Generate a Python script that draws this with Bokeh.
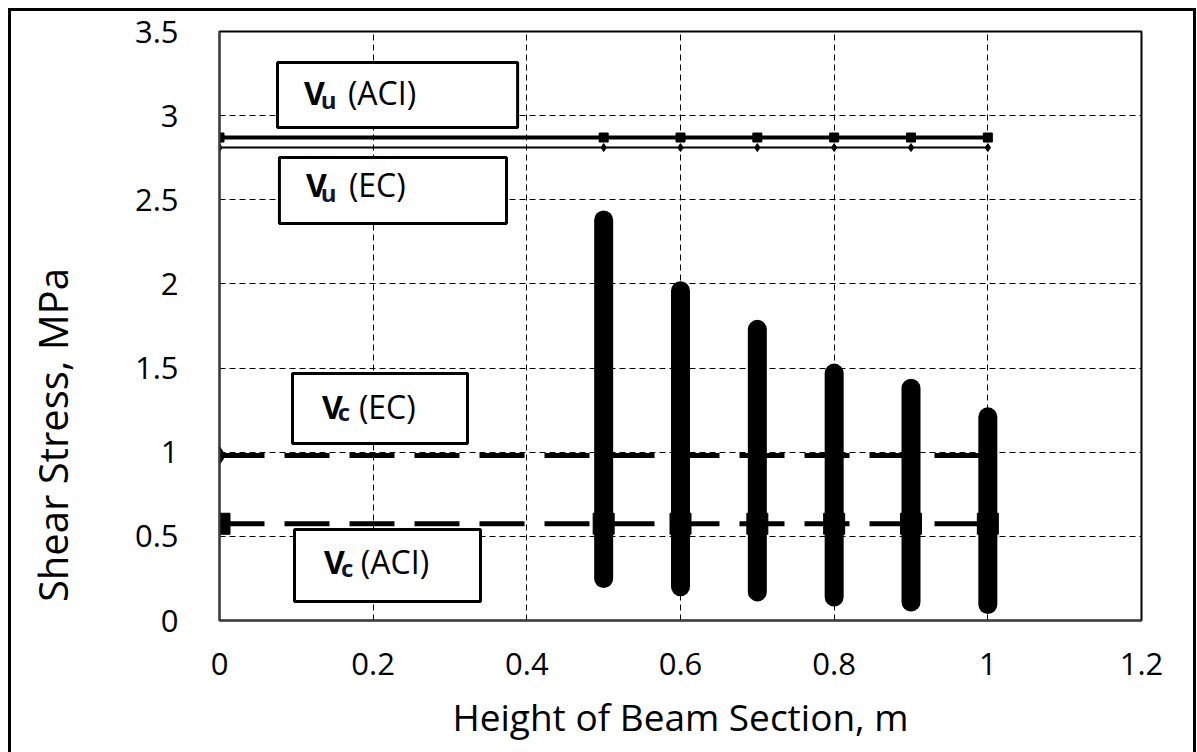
from bokeh.plotting import figure
from bokeh.models import FixedTicker, NumeralTickFormatter, InlineStyleSheet
from bokeh.core.properties import value
from bokeh.embed import file_html
from bokeh.resources import INLINE

# ---- data ----
heights = [0.0, 0.5, 0.6, 0.7, 0.8, 0.9, 1.0]
vu_aci = [2.87, 2.87, 2.87, 2.87, 2.87, 2.87, 2.87]
vu_ec = [2.81, 2.81, 2.81, 2.81, 2.81, 2.81, 2.81]
vc_ec = [0.98, 0.98, 0.98, 0.98, 0.98, 0.98, 0.98]
vc_aci = [0.575, 0.575, 0.575, 0.575, 0.575, 0.575, 0.575]

bar_x = [0.5, 0.6, 0.7, 0.8, 0.9, 1.0]
bar_top = [2.38, 1.96, 1.73, 1.47, 1.38, 1.21]
bar_bottom = [0.25, 0.20, 0.17, 0.14, 0.11, 0.095]

x_ticks = [0.0, 0.2, 0.4, 0.6, 0.8, 1.0, 1.2]
x_tick_labels = ["0", "0.2", "0.4", "0.6", "0.8", "1", "1.2"]
y_ticks = [0.0, 0.5, 1.0, 1.5, 2.0, 2.5, 3.0, 3.5]
y_tick_labels = ["0", "0.5", "1", "1.5", "2", "2.5", "3", "3.5"]

x_title = "Height of Beam Section, m"
y_title = "Shear Stress, MPa"

# annotation boxes: (left, right, bottom, top), label parts
box_left = [0.0755, 0.078, 0.095, 0.0976]
box_right = [0.388, 0.3735, 0.3228, 0.3397]
box_bottom = [2.929, 2.359, 1.052, 0.113]
box_top = [3.316, 2.751, 1.468, 0.541]
lab_main = ["V", "V", "V", "V"]
lab_sub = ["u", "u", "c", "c"]
lab_rest = ["(ACI)", "(EC)", "(EC)", "(ACI)"]
main_x = [0.110, 0.1125, 0.1334, 0.136]
main_y = [3.137, 2.590, 1.271, 0.350]
sub_x = [0.1318, 0.1318, 0.1539, 0.158]
sub_y = [3.095, 2.543, 1.242, 0.315]
rest_x = [0.1671, 0.1684, 0.1814, 0.184]

FONT = "Open Sans"

p = figure(width=1182, height=741, x_range=(0, 1.2), y_range=(0, 3.5),
           output_backend="svg", toolbar_location=None, margin=(11, 0, 0, 11),
           min_border_left=208, min_border_right=52, min_border_top=20, min_border_bottom=132)
p.stylesheets = [InlineStyleSheet(css=":host { outline: 3px solid black; outline-offset: 0px; }")]
p.background_fill_color = "white"
p.border_fill_color = "white"
p.outline_line_color = "black"
p.outline_line_width = 2

for ax in (p.xaxis, p.yaxis):
    ax.major_tick_line_color = None
    ax.minor_tick_line_color = None
    ax.axis_line_color = "#404040"
    ax.axis_line_width = 2
    ax.major_label_text_font = FONT
    ax.major_label_text_font_size = "31px"
    ax.major_label_text_color = "black"
    ax.formatter = NumeralTickFormatter(format="0.[0]")
    ax.axis_label_text_font = FONT
    ax.axis_label_text_font_style = "normal"
    ax.axis_label_text_color = "black"

p.xaxis.ticker = FixedTicker(ticks=x_ticks)
p.yaxis.ticker = FixedTicker(ticks=y_ticks)
p.xaxis.major_label_overrides = {t: s for t, s in zip(x_ticks, x_tick_labels)}
p.yaxis.major_label_overrides = {t: s for t, s in zip(y_ticks, y_tick_labels)}
p.xaxis.major_label_standoff = 26
p.yaxis.major_label_standoff = 35

p.xaxis.axis_label = x_title
p.xaxis.axis_label_text_font_size = "37px"
p.xaxis.axis_label_standoff = 13
# trailing no-break spaces shift the visible title down along the axis
p.yaxis.axis_label = y_title + "\u00a0" * 21
p.yaxis.axis_label_text_font_size = "40px"
p.yaxis.axis_label_standoff = 52

for g in (p.xgrid, p.ygrid):
    g.grid_line_color = "black"
    g.grid_line_width = 1
    g.grid_line_dash = "6 4"
p.xgrid.ticker = FixedTicker(ticks=x_ticks)
p.ygrid.ticker = FixedTicker(ticks=y_ticks)

# label boxes
p.quad(left=box_left, right=box_right, bottom=box_bottom, top=box_top,
       fill_color="white", line_color="black", line_width=3)

# Vu lines
p.line(heights, vu_aci, line_color="black", line_width=4)
p.scatter(heights, vu_aci, marker="square", size=9, fill_color="black", line_color="black")
p.line(heights, vu_ec, line_color="black", line_width=2)
p.scatter(heights, vu_ec, marker="diamond", size=8, fill_color="black", line_color="black")

# Vc lines
p.line(heights, vc_ec, line_color="black", line_width=5, line_dash="45 20")
p.scatter(heights, vc_ec, marker="diamond", size=18, fill_color="black", line_color="black")
p.line(heights, vc_aci, line_color="black", line_width=5, line_dash="45 20")
p.scatter(heights, vc_aci, marker="square", size=21, fill_color="black", line_color="black")

# range bars
p.segment(x0=bar_x, y0=bar_bottom, x1=bar_x, y1=bar_top, line_color="black",
          line_width=19, line_cap="round")

# box texts
p.text(x=main_x, y=main_y, text=lab_main, text_font=value(FONT), text_font_style="bold",
       text_font_size="32px", text_color="black", text_baseline="alphabetic")
p.text(x=sub_x, y=sub_y, text=lab_sub, text_font=value(FONT), text_font_style="bold",
       text_font_size="24px", text_color="#141432", text_baseline="alphabetic")
p.text(x=rest_x, y=main_y, text=lab_rest, text_font=value(FONT),
       text_font_size="32px", text_color="black", text_baseline="alphabetic")

open("out.html", "w").write(file_html(p, INLINE))
